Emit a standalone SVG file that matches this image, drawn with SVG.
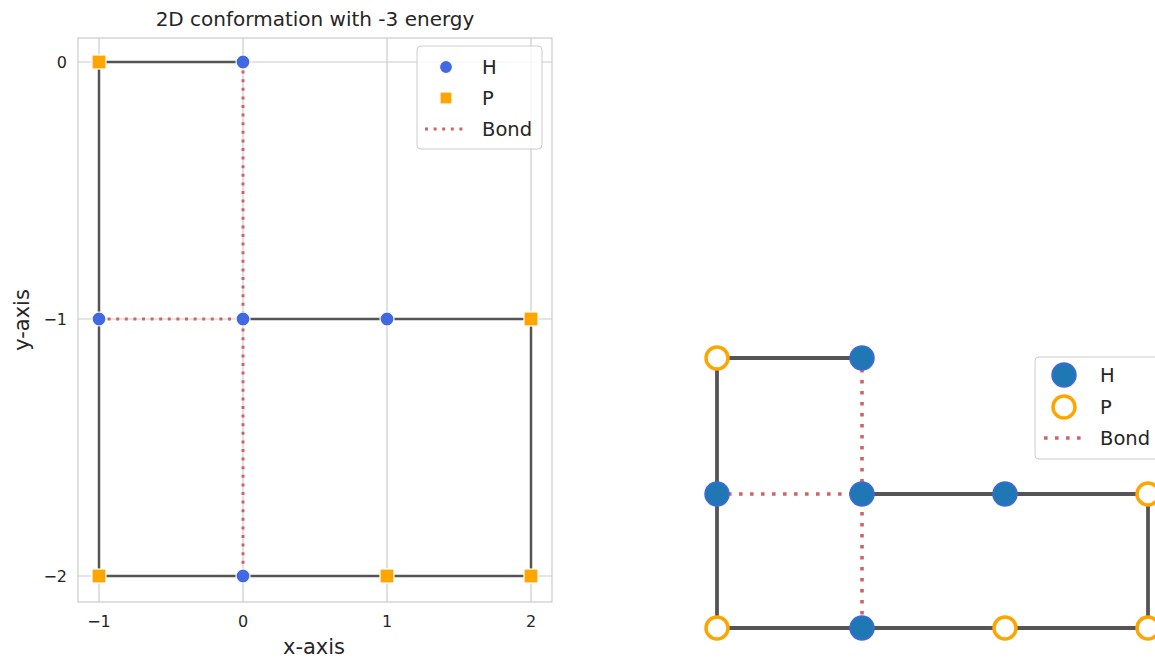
<svg xmlns="http://www.w3.org/2000/svg" width="1155" height="660" viewBox="0 0 1155 660">
<style>
text{font-family:"DejaVu Sans",sans-serif;fill:#262626}
.grid{stroke:#cccccc;stroke-width:1.2;fill:none}
.chainL{stroke:#555555;stroke-width:2.5;fill:none;stroke-linecap:round}
.bondL{stroke:#d16366;stroke-width:3;stroke-dasharray:3 5.6;fill:none}
.chainR{stroke:#555555;stroke-width:3.8;fill:none;stroke-linecap:round}
.bondR{stroke:#d16366;stroke-width:3.6;stroke-dasharray:3.6 7.4;fill:none}
.hL{fill:#4169e1;stroke:#ffffff;stroke-width:1.2}
.pL{fill:#ffa500;stroke:#ffffff;stroke-width:1.2}
.hR{fill:#1f77b4;stroke:#4169e1;stroke-width:1.5}
.pR{fill:#ffffff;stroke:#ffa500;stroke-width:3.5}
.tick{font-size:16px}
.leg{font-size:19.5px}
.legbox{fill:#ffffff;fill-opacity:0.8;stroke:#cccccc;stroke-width:1}
</style>
<rect width="1155" height="660" fill="#ffffff"/>
<g id="left-axes">
<rect x="78" y="38" width="474" height="564" fill="#ffffff" stroke="#cccccc" stroke-width="1.2"/>
<path class="grid" d="M99 38V602M243 38V602M387 38V602M531 38V602M78 62H552M78 319H552M78 576H552"/>
<text x="315" y="26" font-size="20" text-anchor="middle">2D conformation with -3 energy</text>
<g class="tick" text-anchor="end">
<text x="67" y="68">0</text>
<text x="67" y="325">−1</text>
<text x="67" y="582">−2</text>
</g>
<g class="tick" text-anchor="middle">
<text x="99" y="627">−1</text>
<text x="243" y="627">0</text>
<text x="387" y="627">1</text>
<text x="531" y="627">2</text>
</g>
<text x="314" y="654" font-size="21" text-anchor="middle">x-axis</text>
<text transform="translate(29,320) rotate(-90)" font-size="21" text-anchor="middle">y-axis</text>
</g>
<g id="left-connectors">
<path class="chainL" d="M243 62H99V576H531V319H243"/>
<path class="bondL" d="M243 62V576M99 319H243"/>
</g>
<g id="left-nodes">
<circle id="L-H1" class="hL" cx="243" cy="62" r="7"/>
<rect id="L-P2" class="pL" x="92" y="55" width="14" height="14"/>
<circle id="L-H3" class="hL" cx="99" cy="319" r="7"/>
<rect id="L-P4" class="pL" x="92" y="569" width="14" height="14"/>
<circle id="L-H5" class="hL" cx="243" cy="576" r="7"/>
<rect id="L-P6" class="pL" x="380" y="569" width="14" height="14"/>
<rect id="L-P7" class="pL" x="524" y="569" width="14" height="14"/>
<rect id="L-P8" class="pL" x="524" y="312" width="14" height="14"/>
<circle id="L-H9" class="hL" cx="387" cy="319" r="7"/>
<circle id="L-H10" class="hL" cx="243" cy="319" r="7"/>
</g>
<g id="left-legend">
<rect class="legbox" x="417" y="46" width="125" height="103" rx="4"/>
<circle class="hL" cx="446" cy="67" r="6.5"/>
<text class="leg" x="482" y="74">H</text>
<rect class="pL" x="440" y="92" width="12" height="12"/>
<text class="leg" x="482" y="105">P</text>
<path class="bondL" d="M425 129H467"/>
<text class="leg" x="482" y="136">Bond</text>
</g>
<g id="right-connectors">
<path class="chainR" d="M862 358H717V628H1148V494H862"/>
<path class="bondR" d="M862 358V628M717 494H862"/>
</g>
<g id="right-nodes">
<circle id="R-H1" class="hR" cx="862" cy="358" r="12"/>
<circle id="R-P2" class="pR" cx="717" cy="358" r="11"/>
<circle id="R-H3" class="hR" cx="717" cy="494" r="12"/>
<circle id="R-P4" class="pR" cx="717" cy="628" r="11"/>
<circle id="R-H5" class="hR" cx="862" cy="628" r="12"/>
<circle id="R-P6" class="pR" cx="1005" cy="628" r="11"/>
<circle id="R-P7" class="pR" cx="1148" cy="628" r="11"/>
<circle id="R-P8" class="pR" cx="1148" cy="494" r="11"/>
<circle id="R-H9" class="hR" cx="1005" cy="494" r="12"/>
<circle id="R-H10" class="hR" cx="862" cy="494" r="12"/>
</g>
<g id="right-legend">
<rect class="legbox" x="1035" y="357" width="130" height="102" rx="4"/>
<circle class="hR" cx="1064" cy="375" r="12"/>
<text class="leg" x="1100" y="382">H</text>
<circle class="pR" cx="1064" cy="407" r="11"/>
<text class="leg" x="1100" y="414">P</text>
<path class="bondR" d="M1044 438H1084"/>
<text class="leg" x="1100" y="445">Bond</text>
</g>
</svg>
